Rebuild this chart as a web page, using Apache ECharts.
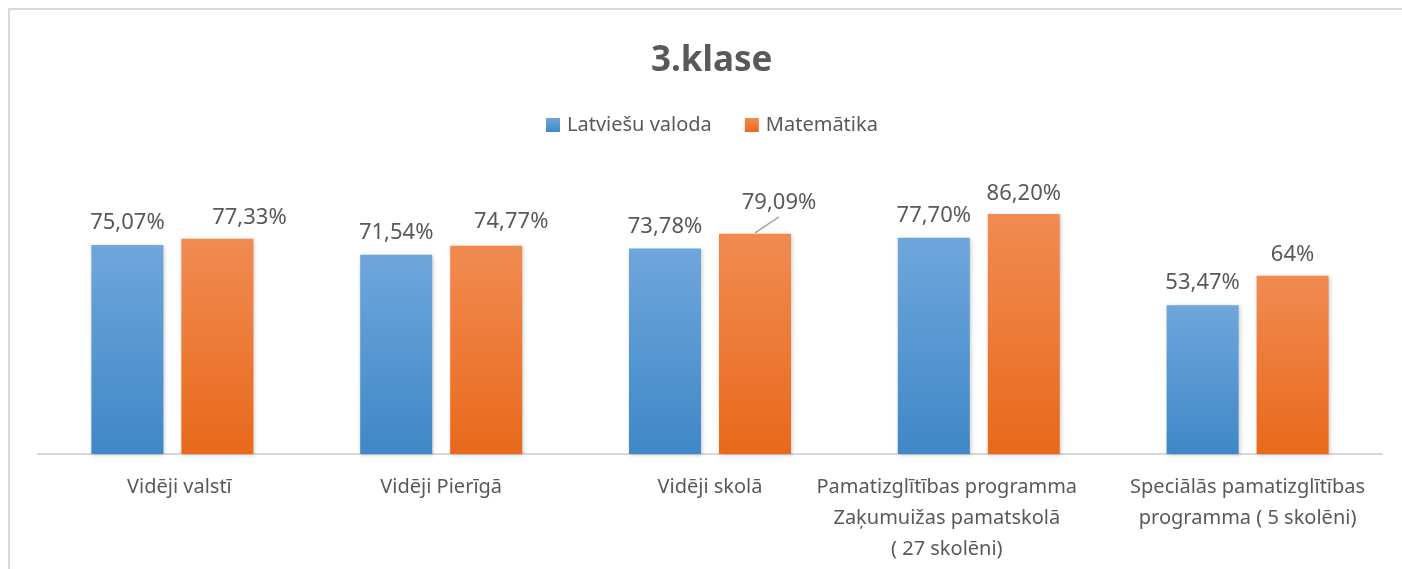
<!DOCTYPE html>
<html>
<head>
<meta charset="utf-8">
<script src="https://cdn.jsdelivr.net/npm/echarts@6/dist/echarts.min.js"></script>
<style>html,body{margin:0;padding:0;background:#fff;}#c{width:1402px;height:569px;}</style>
</head>
<body>
<div id="c"></div>
<script>
const categories = [
  'Vidēji valstī',
  'Vidēji Pierīgā',
  'Vidēji skolā',
  'Pamatizglītības programma\nZaķumuižas pamatskolā\n( 27 skolēni)',
  'Speciālās pamatizglītības\nprogramma ( 5 skolēni)'
];
const latviesu = [75.07, 71.54, 73.78, 77.70, 53.47];
const matematika = [77.33, 74.77, 79.09, 86.20, 64];
const seriesNames = ['Latviešu valoda', 'Matemātika'];

// styling only
const catLabelPad = [[0,0,0,14],[0,0,0,0],[0,0,0,0],[0,64,0,0],[0,0,0,0]];
const orangeLabelShift = [[32,0],[25,-3],[24,-10],[0,1],[0,0]];
const leaderIndex = 2;
const FONT = '"Noto Sans", "Open Sans", sans-serif';
const TXT = '#595959';

function fmt(v){
  return Number.isInteger(v) ? v + '%' : v.toFixed(2).replace('.', ',') + '%';
}
function grad(top, bottom){
  return new echarts.graphic.LinearGradient(0,0,0,1,[{offset:0,color:top},{offset:1,color:bottom}]);
}

const chart = echarts.init(document.getElementById('c'));
chart.setOption({
  animation: false,
  backgroundColor: '#fff',
  graphic: [{
    id: 'frame', type: 'rect', silent: true,
    shape: {x: 9, y: 9, width: 1500, height: 700},
    style: {fill: 'none', stroke: '#d9d9d9', lineWidth: 2}
  }],
  title: {
    text: '3.klase', left: 651, top: 44, padding: 0,
    textStyle: {fontFamily: FONT, fontSize: 35, fontWeight: 'bold', color: TXT}
  },
  legend: {
    data: seriesNames, left: 546, top: 115, padding: 0,
    itemWidth: 14, itemHeight: 14, itemGap: 33, icon: 'rect',
    textStyle: {fontFamily: FONT, fontSize: 20, color: TXT, padding: [0,0,0,2]}
  },
  grid: {left: 38, right: 20, top: 175.6, bottom: 115, containLabel: false},
  xAxis: {
    type: 'category',
    data: categories.map((c, i) => ({value: c, textStyle: {padding: catLabelPad[i]}})),
    axisTick: {show: false},
    axisLine: {lineStyle: {color: '#d9d9d9', width: 2}},
    axisLabel: {interval: 0, fontFamily: FONT, fontSize: 20, lineHeight: 31, color: TXT, margin: 18}
  },
  yAxis: {type: 'value', min: 0, max: 100, show: false, splitLine: {show: false}},
  series: [{
    name: seriesNames[0], type: 'bar', barWidth: 72, barGap: '25%',
    data: latviesu,
    itemStyle: {color: grad('#6fa6dc', '#3f87c8'), shadowBlur: 4, shadowColor: 'rgba(0,0,0,0.22)', shadowOffsetX: 1, shadowOffsetY: 1},
    label: {show: true, position: 'top', distance: 11, formatter: p => fmt(p.value),
      fontFamily: FONT, fontSize: 22, color: TXT}
  }, {
    name: seriesNames[1], type: 'bar', barWidth: 72, barGap: '25%',
    data: matematika,
    itemStyle: {color: grad('#f18b52', '#e8691b'), shadowBlur: 4, shadowColor: 'rgba(0,0,0,0.22)', shadowOffsetX: 1, shadowOffsetY: 1},
    label: {show: true, position: 'top', distance: 10, formatter: p => fmt(p.value),
      fontFamily: FONT, fontSize: 22, color: TXT},
    labelLayout: p => ({dx: orangeLabelShift[p.dataIndex][0], dy: orangeLabelShift[p.dataIndex][1]})
  }]
});

// leader line for the moved label, anchored on the bar's layout from the library
const lay = chart.getModel().getSeriesByIndex(1).getData().getItemLayout(leaderIndex);
if (lay) {
  const cx = lay.x + lay.width / 2;
  const topY = Math.min(lay.y, lay.y + lay.height);
  chart.setOption({graphic: [{
    id: 'frame', type: 'rect', silent: true,
    shape: {x: 9, y: 9, width: 1500, height: 700},
    style: {fill: 'none', stroke: '#d9d9d9', lineWidth: 2}
  }, {
    id: 'leader', type: 'line', silent: true,
    shape: {x1: cx + orangeLabelShift[leaderIndex][0], y1: topY - 17, x2: cx, y2: topY - 1},
    style: {stroke: '#a6a6a6', lineWidth: 1.5}
  }]});
}
</script>
</body>
</html>
